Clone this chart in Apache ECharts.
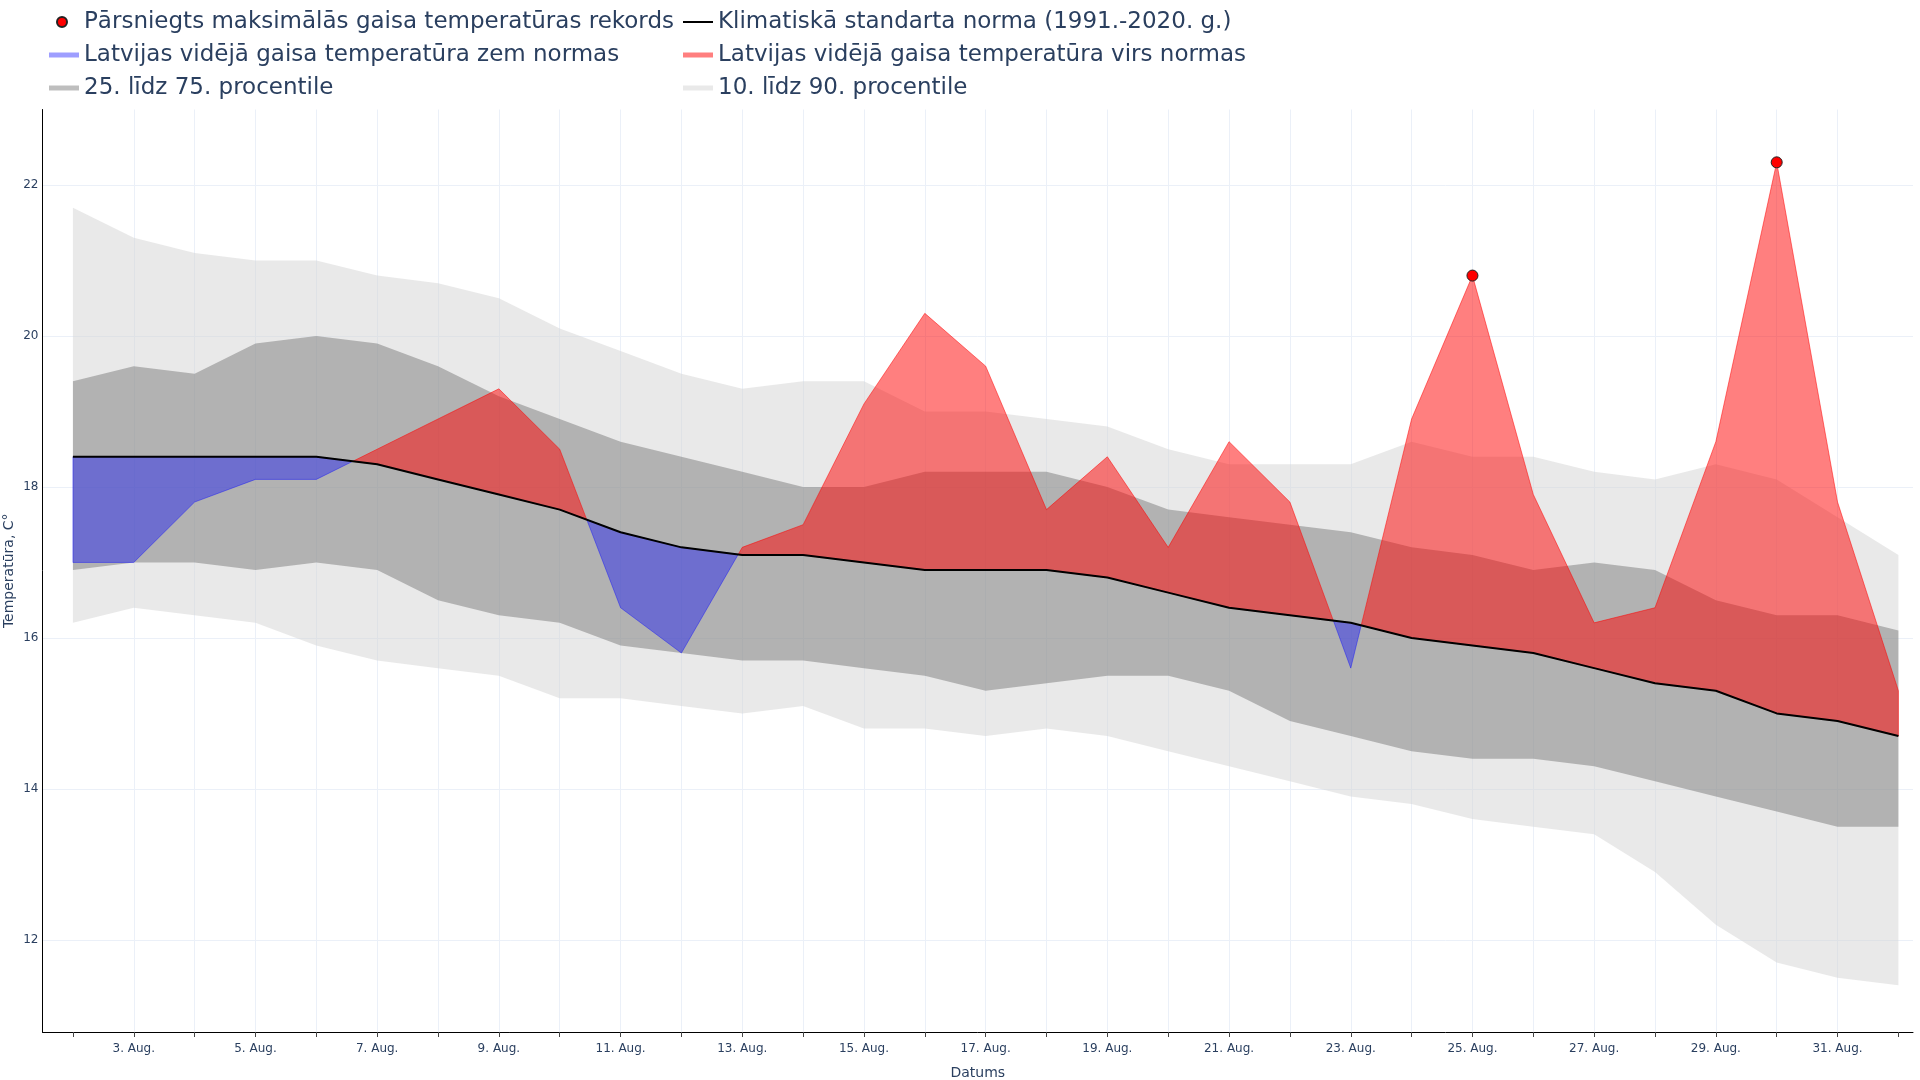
<!DOCTYPE html>
<html>
<head>
<meta charset="utf-8">
<script src="https://cdn.jsdelivr.net/npm/echarts@6/dist/echarts.min.js"></script>
<style>
html,body{margin:0;padding:0;background:#fff;}
#chart{width:1920px;height:1080px;}
</style>
</head>
<body>
<div id="chart"></div>
<script>
// ---- data (day of August; 32 = 1 Sep) ----
const days = [2,3,4,5,6,7,8,9,10,11,12,13,14,15,16,17,18,19,20,21,22,23,24,25,26,27,28,29,30,31,32];
const p90 = [21.7,21.3,21.1,21.0,21.0,20.8,20.7,20.5,20.1,19.8,19.5, 19.3,19.4,19.4,19.0,19.0,18.9,18.8,18.5,18.3,18.3, 18.3,18.6,18.4,18.4,18.2,18.1,18.3,18.1,17.6,17.1];
const p75 = [19.4,19.6,19.5,19.9,20.0,19.9,19.6,19.2,18.9,18.6,18.4, 18.2,18.0,18.0,18.2,18.2,18.2,18.0,17.7,17.6,17.5, 17.4,17.2,17.1,16.9,17.0,16.9,16.5,16.3,16.3,16.1];
const norm = [18.4,18.4,18.4,18.4,18.4,18.3,18.1,17.9,17.7,17.4,17.2, 17.1,17.1,17.0,16.9,16.9,16.9,16.8,16.6,16.4,16.3, 16.2,16.0,15.9,15.8,15.6,15.4,15.3,15.0,14.9,14.7];
const actual = [17.0,17.0,17.8,18.1,18.1,18.5,18.9,19.3,18.5,16.4,15.8, 17.2,17.5,19.1,20.3,19.6,17.7,18.4,17.2,18.6,17.8, 15.6,18.9,20.8,17.9,16.2,16.4,18.6,22.3,17.8,15.3];
const p25 = [16.9,17.0,17.0,16.9,17.0,16.9,16.5,16.3,16.2,15.9,15.8, 15.7,15.7,15.6,15.5,15.3,15.4,15.5,15.5,15.3,14.9, 14.7,14.5,14.4,14.4,14.3,14.1,13.9,13.7,13.5,13.5];
const p10 = [16.2,16.4,16.3,16.2,15.9,15.7,15.6,15.5,15.2,15.2,15.1, 15.0,15.1,14.8,14.8,14.7,14.8,14.7,14.5,14.3,14.1, 13.9,13.8,13.6,13.5,13.4,12.9,12.2,11.7,11.5,11.4];
const recordDays = [25, 30];
const recordValues = [20.8, 22.3];
const xTickDays = [3,5,7,9,11,13,15,17,19,21,23,25,27,29,31];
const xTickLabels = ['3. Aug.','5. Aug.','7. Aug.','9. Aug.','11. Aug.','13. Aug.','15. Aug.','17. Aug.','19. Aug.','21. Aug.','23. Aug.','25. Aug.','27. Aug.','29. Aug.','31. Aug.'];

const N_REC = 'Pārsniegts maksimālās gaisa temperatūras rekords';
const N_NORM = 'Klimatiskā standarta norma (1991.-2020. g.)';
const N_BELOW = 'Latvijas vidējā gaisa temperatūra zem normas';
const N_ABOVE = 'Latvijas vidējā gaisa temperatūra virs normas';
const N_P2575 = '25. līdz 75. procentile';
const N_P1090 = '10. līdz 90. procentile';

const FONT = 'DejaVu Sans';
const TXT = '#2a3f5f';
const GRID = '#EBF0F8';
const C_BELOW = 'rgba(0,0,255,0.38)';
const C_ABOVE = 'rgba(255,0,0,0.5)';
const C_DARK = 'rgba(110,110,110,0.45)';
const C_LIGHT = 'rgba(211,211,211,0.5)';

const labelMap = {};
xTickDays.forEach((d, i) => { labelMap[d] = xTickLabels[i]; });

function bandSeries(name, lower, upper, color) {
  return {
    type: 'custom', name: name, silent: true,
    itemStyle: { color: color },
    data: [[days[0], lower[0]]],
    renderItem: function (params, api) {
      const pts = [];
      for (let i = 0; i < days.length; i++) pts.push(api.coord([days[i], upper[i]]));
      for (let i = days.length - 1; i >= 0; i--) pts.push(api.coord([days[i], lower[i]]));
      return { type: 'polygon', shape: { points: pts }, style: { fill: color } };
    }
  };
}

function diffRuns(sign) {
  const aug = [];
  const n = days.length;
  for (let i = 0; i < n; i++) {
    aug.push({ x: days[i], a: actual[i], n: norm[i] });
    if (i < n - 1) {
      const d0 = actual[i] - norm[i], d1 = actual[i + 1] - norm[i + 1];
      if (d0 * d1 < 0) {
        const t = d0 / (d0 - d1);
        const x = days[i] + t * (days[i + 1] - days[i]);
        const y = norm[i] + t * (norm[i + 1] - norm[i]);
        aug.push({ x: x, a: y, n: y });
      }
    }
  }
  const runs = [];
  let cur = [];
  aug.forEach(p => {
    const d = sign * (p.a - p.n);
    if (d >= 0) cur.push(p);
    else { if (cur.length > 1) runs.push(cur); cur = []; }
  });
  if (cur.length > 1) runs.push(cur);
  return runs.filter(r => r.some(p => sign * (p.a - p.n) > 0));
}

function diffSeries(name, sign, color) {
  const runs = diffRuns(sign);
  return {
    type: 'custom', name: name, silent: true,
    itemStyle: { color: color },
    data: [[days[0], norm[0]]],
    renderItem: function (params, api) {
      const children = runs.map(run => {
        const pts = run.map(p => api.coord([p.x, p.a]));
        for (let i = run.length - 1; i >= 0; i--) pts.push(api.coord([run[i].x, run[i].n]));
        return { type: 'polygon', shape: { points: pts }, style: { fill: color, stroke: color, lineWidth: 1 } };
      });
      return { type: 'group', children: children };
    }
  };
}

const legendCommon = {
  padding: 0, selectedMode: false,
  textStyle: { fontSize: 23, color: TXT, fontFamily: FONT, lineHeight: 33 }
};

const option = {
  animation: false,
  backgroundColor: '#ffffff',
  textStyle: { fontFamily: FONT },
  grid: { left: 42.5, right: 7, top: 109.5, bottom: 48, containLabel: false, outerBoundsMode: 'none' },
  legend: [
    Object.assign({}, legendCommon, {
      data: [{ name: N_REC, icon: 'circle' }],
      left: 56, top: 5.5, itemWidth: 34, itemHeight: 10
    }),
    Object.assign({}, legendCommon, {
      data: [
        { name: N_NORM, icon: 'path://M0,0 L30,0 L30,2 L0,2 Z', itemStyle: { color: '#000' } },
        { name: N_ABOVE, icon: 'rect' },
        { name: N_P1090, icon: 'rect' }
      ],
      orient: 'vertical', left: 683, top: 5.5, itemWidth: 30, itemHeight: 5, itemGap: 0
    }),
    Object.assign({}, legendCommon, {
      data: [{ name: N_BELOW, icon: 'rect' }, { name: N_P2575, icon: 'rect' }],
      orient: 'vertical', left: 49, top: 38.5, itemWidth: 30, itemHeight: 5, itemGap: 0
    })
  ],
  xAxis: {
    type: 'value', min: 1.5, max: 32.24, splitNumber: 31, minInterval: 1, maxInterval: 1,
    axisLine: { show: true, onZero: false, lineStyle: { color: '#000', width: 1 } },
    axisTick: { show: true, length: 5, lineStyle: { color: '#444', width: 1 }, customValues: days },
    axisLabel: {
      interval: 0, customValues: xTickDays,
      formatter: v => labelMap[v] || '',
      fontSize: 12, color: TXT, fontFamily: FONT, margin: 11
    },
    splitLine: { show: true, showMinLine: false, showMaxLine: false, lineStyle: { color: GRID, width: 1 } },
    name: 'Datums', nameLocation: 'middle', nameGap: 34, nameMoveOverlap: false,
    nameTextStyle: { fontSize: 14, color: TXT, fontFamily: FONT }
  },
  yAxis: {
    type: 'value', min: 10.78, max: 23, splitNumber: 6, minInterval: 2, maxInterval: 2,
    axisLine: { show: true, onZero: false, lineStyle: { color: '#000', width: 1 } },
    axisTick: { show: false },
    axisLabel: {
      formatter: v => (Math.abs(v % 2) < 1e-9 ? String(v) : ''),
      fontSize: 12, color: TXT, fontFamily: FONT, margin: 4
    },
    splitLine: { show: true, showMinLine: false, showMaxLine: false, lineStyle: { color: GRID, width: 1 } },
    name: 'Temperatūra, C°', nameLocation: 'middle', nameGap: 26, nameMoveOverlap: false,
    nameTextStyle: { fontSize: 14, color: TXT, fontFamily: FONT }
  },
  series: [
    bandSeries(N_P1090, p10, p90, C_LIGHT),
    bandSeries(N_P2575, p25, p75, C_DARK),
    diffSeries(N_BELOW, -1, C_BELOW),
    diffSeries(N_ABOVE, 1, C_ABOVE),
    {
      type: 'line', name: N_NORM, silent: true,
      data: days.map((d, i) => [d, norm[i]]),
      symbol: 'none', showSymbol: false,
      lineStyle: { color: '#000', width: 2 },
      itemStyle: { color: '#000' }
    },
    {
      type: 'scatter', name: N_REC, silent: true,
      data: recordDays.map((d, i) => [d, recordValues[i]]),
      symbol: 'circle', symbolSize: 11,
      itemStyle: { color: '#ff0000', borderColor: '#222', borderWidth: 1, opacity: 1 }
    }
  ]
};

const chart = echarts.init(document.getElementById('chart'), null, { renderer: 'canvas' });
chart.setOption(option);
</script>
</body>
</html>
